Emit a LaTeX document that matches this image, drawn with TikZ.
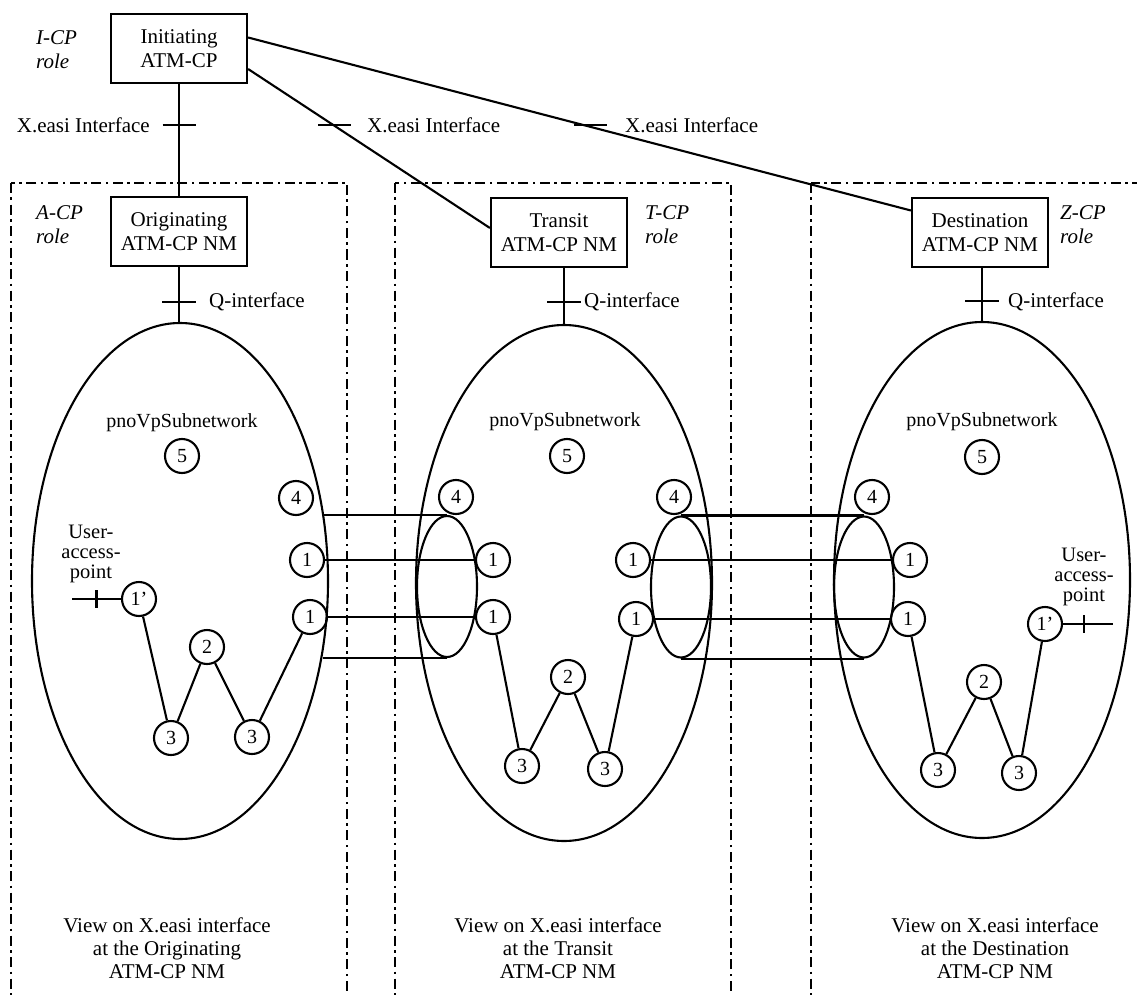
\documentclass[tikz,border=0pt]{standalone}
\usepackage{fontspec}
\setmainfont{Liberation Serif}
\usetikzlibrary{shapes.geometric,calc}

\begin{document}
\begin{tikzpicture}[x=1pt,y=-1pt,
  ln/.style={line width=2.1pt},
  cpframe/.style={line width=2pt, dash pattern=on 10pt off 4.5pt on 2.5pt off 4.5pt},
  cpbox/.style={draw, line width=2.2pt, minimum width=136pt, minimum height=69pt,
    align=center, inner sep=0pt, font=\fontsize{21}{24}\selectfont},
  rolelbl/.style={anchor=west, align=left, inner sep=0pt, font=\fontsize{21}{24}\selectfont\itshape},
  txt/.style={inner sep=0pt, font=\fontsize{21}{24}\selectfont},
  uap/.style={inner sep=0pt, align=center, font=\fontsize{20.5}{20}\selectfont},
  viewlbl/.style={inner sep=0pt, align=center, font=\fontsize{21}{23}\selectfont},
  subnet/.style={draw, ellipse, line width=2.1pt, minimum width=296pt, minimum height=516pt, inner sep=0pt},
  vpc/.style={draw, ellipse, line width=2.1pt, minimum width=60pt, minimum height=141pt, inner sep=0pt},
  pt/.style={draw, circle, line width=2.1pt, minimum size=34pt, inner sep=0pt, font=\fontsize{20}{24}\selectfont},
]
\useasboundingbox (0,0) rectangle (1137,995);
\clip (0,0) rectangle (1137,995);

% view frames
\draw[cpframe] (11,183) rectangle (347,1010);
\draw[cpframe] (395,183) rectangle (731,1010);
\draw[cpframe] (811,183) rectangle (1160,1010);

% management boxes
\node[cpbox] (ini) at (179,48.5) {Initiating\\ATM-CP};
\node[cpbox] (ori) at (179,231.5) {Originating\\ATM-CP NM};
\node[cpbox] (tra) at (559,232.5) {Transit\\ATM-CP NM};
\node[cpbox] (dst) at (980,232.5) {Destination\\ATM-CP NM};

% role labels
\node[rolelbl] (rI) at (36,50) {I-CP\\role};
\node[rolelbl] (rA) at (36,225) {A-CP\\role};
\node[rolelbl] (rT) at (645,225) {T-CP\\role};
\node[rolelbl] (rZ) at (1060,225) {Z-CP\\role};

% subnetworks
\node[subnet] (E1) at (180,581) {};
\node[subnet] (E2) at (564,583) {};
\node[subnet] (E3) at (982,580) {};

\node[txt] (n1) at (182,423) {\fontsize{20}{24}\selectfont pnoVpSubnetwork};
\node[txt] (n2) at (565,422) {\fontsize{20}{24}\selectfont pnoVpSubnetwork};
\node[txt] (n3) at (982,422) {\fontsize{20}{24}\selectfont pnoVpSubnetwork};

% X.easi interfaces
\draw[ln] (ini.south) -- coordinate[pos=0.368] (t1) (ori.north);
\draw[ln] ([yshift=-20.5pt]ini.east) -- coordinate[pos=0.352] (t2) ([yshift=4.5pt]tra.west);
\draw[ln] ([yshift=11pt]ini.east) -- coordinate[pos=0.506] (t3) ([yshift=22pt]dst.west);
\draw[ln] ([xshift=-16.5pt]t1) -- ([xshift=16.5pt]t1);
\draw[ln] ([xshift=-15pt]t2) -- ([xshift=18pt]t2);
\draw[ln] ([xshift=-9pt]t3) -- ([xshift=24pt]t3);
\node[txt, anchor=east] (x1) at (150,125) {X.easi Interface};
\node[txt, anchor=west] (x2) at (367,125) {X.easi Interface};
\node[txt, anchor=west] (x3) at (625,125) {X.easi Interface};

% Q interfaces
\draw[ln] (ori.south) -- coordinate[pos=0.63] (q1) (ori.south |- E1.north);
\draw[ln] (E2.north |- tra.south) -- coordinate[pos=0.6] (q2) (E2.north);
\draw[ln] (E3.north |- dst.south) -- coordinate[pos=0.62] (q3) (E3.north);
\draw[ln] ([xshift=-17pt]q1) -- ([xshift=17pt]q1);
\draw[ln] ([xshift=-17pt]q2) -- ([xshift=17pt]q2);
\draw[ln] ([xshift=-17pt]q3) -- ([xshift=17pt]q3);
\node[txt, anchor=west] (qa) at (209,302) {Q-interface};
\node[txt, anchor=west] (qb) at (584,302) {Q-interface};
\node[txt, anchor=west] (qc) at (1008,302) {Q-interface};

% VP connection bundles
\node[vpc] (S1) at (447,586.5) {};
\node[vpc] (S2) at (681,587) {};
\node[vpc] (S3) at (864,587) {};

% points in the originating subnetwork
\node[pt] (a5) at (182,456) {5};
\node[pt] (a4) at (296,498) {4};
\node[pt] (a1u) at (307,560) {1};
\node[pt] (a1l) at (310,617) {1};
\node[pt] (a1p) at (139,599) {1’};
\node[pt] (a2) at (207,647) {2};
\node[pt] (a3l) at (171,738) {3};
\node[pt] (a3r) at (252,737) {3};

% points in the transit subnetwork
\node[pt] (b5) at (567,456) {5};
\node[pt] (b4) at (456,497) {4};
\node[pt] (b1u) at (493,560) {1};
\node[pt] (b1l) at (493,617) {1};
\node[pt] (b2) at (568,677) {2};
\node[pt] (b3l) at (522,766) {3};
\node[pt] (b3r) at (605,769) {3};
\node[pt] (b1u2) at (633,560) {1};
\node[pt] (b1l2) at (636,619) {1};
\node[pt] (b4r) at (674,497) {4};

% points in the destination subnetwork
\node[pt] (c5) at (982,457) {5};
\node[pt] (c4) at (872,497) {4};
\node[pt] (c1u) at (910,560) {1};
\node[pt] (c1l) at (908,619) {1};
\node[pt] (c1p) at (1045,624) {1’};
\node[pt] (c2) at (984,682) {2};
\node[pt] (c3l) at (938,770) {3};
\node[pt] (c3r) at (1019,773) {3};

% bundle outlines between subnetworks
\draw[ln] (S1.north) -- (E1.25 |- S1.north);
\draw[ln] (S1.south) -- (E1.-28 |- S1.south);
\draw[ln] (S2.north) -- (S3.north);
\draw[ln] (S2.south) -- (S3.south);

% VP links
\draw[ln] (a1u.east) -- (b1u.west);
\draw[ln] (a1l.east) -- (b1l.west);
\draw[ln] (b1u2.east) -- (c1u.west);
\draw[ln] (b1l2.east) -- (c1l.west);

% internal routes
\draw[ln] (a1p) -- (a3l) -- (a2) -- (a3r) -- (a1l);
\draw[ln] (b1l) -- (b3l) -- (b2) -- (b3r) -- (b1l2);
\draw[ln] (c1l) -- (c3l) -- (c2) -- (c3r) -- (c1p);

% user access points
\coordinate (u1) at (72,599);
\draw[ln] (u1) -- coordinate[pos=0.5] (ut1) (a1p.west);
\draw[ln] ([yshift=9pt]ut1) -- ([yshift=-9pt]ut1);
\node[uap] (ua1) at (91,554) {User-\\access-\\point};
\coordinate (u3) at (1113,624);
\draw[ln] (c1p.east) -- coordinate[pos=0.42] (ut3) (u3);
\draw[ln] ([yshift=9pt]ut3) -- ([yshift=-9pt]ut3);
\node[uap] (ua3) at (1084,577) {User-\\access-\\point};

% view captions
\node[viewlbl] (v1) at (167,948) {View on X.easi interface\\at the Originating\\ATM-CP NM};
\node[viewlbl] (v2) at (558,948) {View on X.easi interface\\at the Transit\\ATM-CP NM};
\node[viewlbl] (v3) at (995,948) {View on X.easi interface\\at the Destination\\ATM-CP NM};
\end{tikzpicture}
\end{document}
